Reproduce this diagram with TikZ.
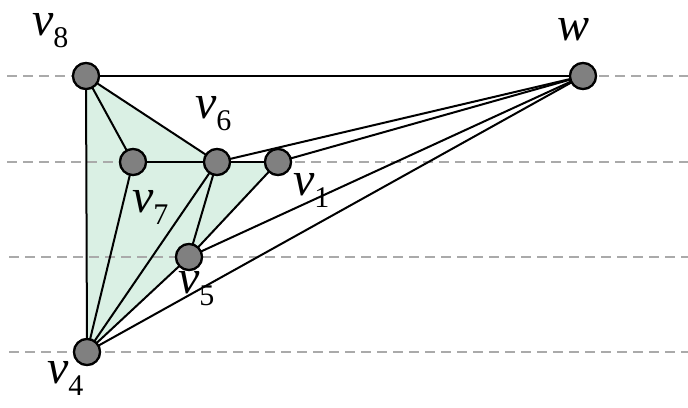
\documentclass[tikz,border=0pt]{standalone}
\usepackage{fontspec}
\newfontfamily\tfont{Liberation Serif}
\newcommand\vlbl[2]{\tfont\fontsize{48}{48}\selectfont\itshape #1\raisebox{-12pt}{\fontsize{30}{30}\selectfont\upshape #2}}
\definecolor{regfill}{RGB}{218,240,228}
\definecolor{vgray}{RGB}{128,128,128}
\definecolor{dgray}{RGB}{170,170,170}
\tikzset{
  vtx/.style={circle,draw=black,line width=2.2pt,fill=vgray,minimum size=26pt,inner sep=0pt},
  edge/.style={line width=2pt,black},
  guide/.style={dgray,line width=1.5pt,dash pattern=on 10pt off 6pt},
  lab/.style={anchor=base west,inner sep=0pt,outer sep=0pt}
}
\begin{document}
\begin{tikzpicture}[x=1pt,y=-1pt]
\useasboundingbox (0,0) rectangle (688,407);
% vertex positions
\coordinate (p8) at (86,76);
\coordinate (p7) at (133,162);
\coordinate (p6) at (217,162);
\coordinate (p1) at (278,162);
\coordinate (p5) at (189,257);
\coordinate (p4) at (87,352);
\coordinate (pw) at (583,76);
% shaded region
\fill[regfill] (p8) -- (p6) -- (p1) -- (p5) -- (p4) -- cycle;
% guide lines
\coordinate (g1a) at (7,76);   \coordinate (g1b) at (688,76);
\coordinate (g2a) at (7,162);  \coordinate (g2b) at (688,162);
\coordinate (g3a) at (9,257);  \coordinate (g3b) at (688,257);
\coordinate (g4a) at (9,352);  \coordinate (g4b) at (688,352);
\draw[guide] (g1a) -- (g1b);
\draw[guide] (g2a) -- (g2b);
\draw[guide] (g3a) -- (g3b);
\draw[guide] (g4a) -- (g4b);
% nodes (for edge anchors)
\node[vtx] (v8) at (p8) {};
\node[vtx] (v7) at (p7) {};
\node[vtx] (v6) at (p6) {};
\node[vtx] (v1) at (p1) {};
\node[vtx] (v5) at (p5) {};
\node[vtx] (v4) at (p4) {};
\node[vtx] (w) at (pw) {};
% edges
\foreach \a/\b in {v8/w,v8/v6,v8/v7,v8/v4,v7/v6,v7/v4,v6/v1,v6/v4,v6/v5,v6/w,v1/w,v1/v5,v5/v4,v5/w,v4/w}
  \draw[edge] (\a.center) -- (\b.center);
% redraw nodes on top
\foreach \n in {v8,v7,v6,v1,v5,v4,w}
  \node[vtx] at (\n.center) {};
% labels
\node[lab] (l8) at (32,35) {\vlbl{v}{8}};
\node[lab] (l6) at (195,118) {\vlbl{v}{6}};
\node[lab] (l7) at (132,212) {\vlbl{v}{7}};
\node[lab] (l1) at (293,195) {\vlbl{v}{1}};
\node[lab] (l5) at (178,293) {\vlbl{v}{5}};
\node[lab] (l4) at (47,383) {\vlbl{v}{4}};
\node[lab] (lw) at (557,40) {\tfont\fontsize{48}{48}\selectfont\itshape w};
\end{tikzpicture}
\end{document}
